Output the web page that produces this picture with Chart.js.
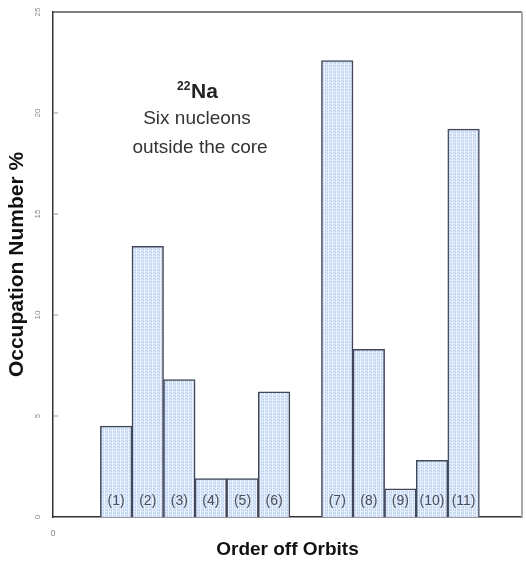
<!DOCTYPE html>
<html>
<head>
<meta charset="utf-8">
<script src="https://cdn.jsdelivr.net/npm/chart.js@4"></script>
<style>
  html, body { margin: 0; padding: 0; background: #fff; }
  #wrap { width: 526px; height: 565px; }
</style>
</head>
<body>
<div id="wrap"><canvas id="myChart" width="526" height="565"></canvas></div>
<script>
const ctx = document.getElementById('myChart');

// orbit order labels, their slot on the x axis and occupation numbers (%)
const orbits = ['(1)', '(2)', '(3)', '(4)', '(5)', '(6)', '(7)', '(8)', '(9)', '(10)', '(11)'];
const slots = [2, 3, 4, 5, 6, 7, 9, 10, 11, 12, 13];
const occupation = [4.5, 13.4, 6.8, 1.9, 1.9, 6.2, 22.6, 8.3, 1.4, 2.8, 19.2];
const yTicks = [0, 5, 10, 15, 20, 25];

const FONT = '"Liberation Sans", Arial, sans-serif';

// dotted light blue fill
function dotted() {
    const c = document.createElement('canvas');
    c.width = 4; c.height = 3;
    const g = c.getContext('2d');
    g.fillStyle = '#d2e2f9';
    g.fillRect(0, 0, 4, 3);
    g.fillStyle = '#eef4fe';
    g.fillRect(0, 0, 1, 3);
    g.fillRect(2, 1, 1, 1);
    g.fillStyle = '#bccbe4';
    g.fillRect(3, 0, 1, 1);
    g.fillRect(1, 2, 1, 1);
    return g.createPattern(c, 'repeat');
}

// top and right edges of the plot box
const frame = {
    id: 'frame',
    afterDraw(chart) {
        const { ctx, chartArea: a } = chart;
        ctx.save();
        ctx.lineWidth = 1.5;
        ctx.strokeStyle = '#555';
        ctx.beginPath();
        ctx.moveTo(a.left, a.top);
        ctx.lineTo(a.right, a.top);
        ctx.stroke();
        ctx.strokeStyle = '#aaa';
        ctx.lineWidth = 2;
        ctx.beginPath();
        ctx.moveTo(a.right, a.top);
        ctx.lineTo(a.right, a.bottom);
        ctx.stroke();
        ctx.restore();
    }
};

// small rotated y tick labels with inward tick marks
const yLabels = {
    id: 'yLabels',
    afterDraw(chart) {
        const { ctx } = chart;
        const y = chart.scales.y;
        ctx.save();
        ctx.font = '8px ' + FONT;
        ctx.fillStyle = '#888';
        ctx.strokeStyle = '#999';
        ctx.lineWidth = 1;
        ctx.textAlign = 'center';
        ctx.textBaseline = 'middle';
        yTicks.forEach(v => {
            const py = y.getPixelForValue(v);
            if (v > 0 && v < 25) {
                ctx.beginPath();
                ctx.moveTo(y.right, py);
                ctx.lineTo(y.right + 5, py);
                ctx.stroke();
            }
            ctx.save();
            ctx.translate(38, py);
            ctx.rotate(-Math.PI / 2);
            ctx.fillText(String(v), 0, 0);
            ctx.restore();
        });
        ctx.restore();
    }
};

const barLabels = {
    id: 'barLabels',
    afterDatasetsDraw(chart) {
        const { ctx } = chart;
        const meta = chart.getDatasetMeta(0);
        const y0 = chart.scales.y.getPixelForValue(0);
        ctx.save();
        ctx.font = '14px "Liberation Sans Narrow", ' + FONT;
        ctx.fillStyle = '#4a4f5a';
        ctx.textAlign = 'center';
        ctx.textBaseline = 'middle';
        meta.data.forEach((bar, i) => {
            ctx.fillText(orbits[i], bar.x, y0 - 16);
        });
        ctx.restore();
    }
};

const note = {
    id: 'note',
    afterDraw(chart) {
        const { ctx } = chart;
        ctx.save();
        ctx.fillStyle = '#222';
        ctx.textBaseline = 'alphabetic';
        ctx.font = 'bold 12px ' + FONT;
        ctx.textAlign = 'left';
        ctx.fillText('22', 177, 90);
        ctx.font = 'bold 21px ' + FONT;
        ctx.fillText('Na', 191, 98);
        ctx.fillStyle = '#333';
        ctx.textAlign = 'center';
        ctx.font = '19px ' + FONT;
        ctx.fillText('Six nucleons', 197, 124);
        ctx.fillText('outside the core', 200, 153);
        ctx.restore();
    }
};

const data = {
    datasets: [
        {
            data: slots.map((s, i) => ({ x: s, y: occupation[i] })),
            backgroundColor: dotted(),
            borderColor: '#41475a',
            borderWidth: 1.5,
            borderSkipped: 'bottom',
            barPercentage: 1,
            categoryPercentage: 1
        }
    ]
};

const config = {
    type: 'bar',
    data: data,
    options: {
        responsive: false,
        animation: false,
        layout: { padding: { top: 12, right: 4, left: 0, bottom: 0 } },
        plugins: {
            legend: { display: false },
            tooltip: { enabled: false }
        },
        scales: {
            x: {
                type: 'linear',
                min: 0,
                max: 14.85,
                offset: false,
                afterFit(scale) { scale.height = 48; },
                afterBuildTicks(scale) { scale.ticks = [{ value: 0 }]; },
                grid: { display: false },
                border: { display: true, color: '#333', width: 1.5 },
                ticks: {
                    color: '#888',
                    font: { size: 9, family: FONT },
                    padding: 3
                },
                title: {
                    display: true,
                    text: 'Order off Orbits',
                    color: '#111',
                    font: { size: 19, weight: 'bold', family: FONT },
                    padding: { top: 0, bottom: 4 }
                }
            },
            y: {
                min: 0,
                max: 25,
                afterFit(scale) { scale.width = 53; },
                afterBuildTicks(scale) { scale.ticks = yTicks.map(v => ({ value: v })); },
                grid: { display: false },
                border: { display: true, color: '#333', width: 1.5 },
                ticks: { display: false },
                title: {
                    display: true,
                    text: 'Occupation Number %',
                    color: '#111',
                    font: { size: 21, weight: 'bold', family: FONT },
                    padding: { top: 5, bottom: 0 }
                }
            }
        }
    },
    plugins: [frame, yLabels, barLabels, note]
};

new Chart(ctx, config);
</script>
</body>
</html>
